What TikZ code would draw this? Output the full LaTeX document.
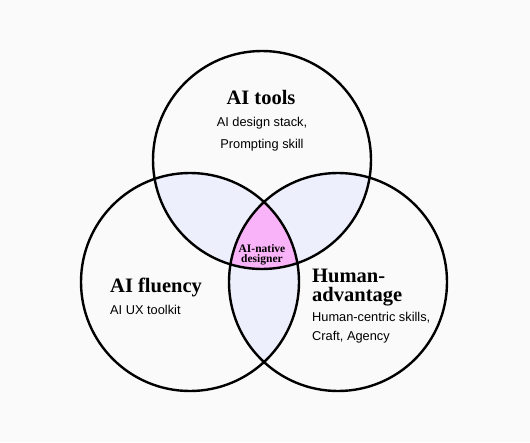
\documentclass[tikz,border=0pt]{standalone}
\usepackage{fontspec}
\setmainfont{Liberation Serif}
\setsansfont{Liberation Sans}
\usetikzlibrary{positioning}
\definecolor{paper}{HTML}{FAFAFA}
\definecolor{overlap}{HTML}{EDF0FC}
\definecolor{core}{HTML}{F9B3F8}

\begin{document}
\begin{tikzpicture}[x=1pt,y=-1pt,
  ring/.style={circle,draw=black,line width=2.4pt,minimum size=218pt,inner sep=0pt},
  head/.style={font=\bfseries\fontsize{20.5}{19}\selectfont,inner sep=0pt},
  body/.style={font=\sffamily\fontsize{12.8}{15}\selectfont,inner sep=0pt},
  tiny/.style={font=\bfseries\fontsize{11.5}{10}\selectfont,inner sep=0pt,align=center}]
\fill[paper] (0,0) rectangle (530,442);
\coordinate (ctools) at (262,160);
\coordinate (cfluency) at (190,282);
\coordinate (chuman) at (338,282);
% pairwise overlaps
\begin{scope}
\clip (ctools) circle[radius=109pt];
\fill[overlap] (cfluency) circle[radius=109pt];
\fill[overlap] (chuman) circle[radius=109pt];
\end{scope}
\begin{scope}
\clip (cfluency) circle[radius=109pt];
\fill[overlap] (chuman) circle[radius=109pt];
\end{scope}
% centre
\begin{scope}
\clip (ctools) circle[radius=109pt];
\clip (cfluency) circle[radius=109pt];
\fill[core] (chuman) circle[radius=109pt];
\end{scope}
\node[ring] (tools) at (ctools) {};
\node[ring] (fluency) at (cfluency) {};
\node[ring] (human) at (chuman) {};
% labels
\node[head,anchor=base] (toolsT) at (261,104) {AI tools};
\node[body,anchor=base] (toolsA) at (262,126) {AI design stack,};
\node[body,anchor=base] (toolsB) at (262,148) {Prompting skill};
\node[head,anchor=base west] (fluencyT) at (110,292) {AI fluency};
\node[body,anchor=base west] (fluencyA) at (110,314) {AI UX toolkit};
\node[head,anchor=north west,align=left] (humanT) at (312,268.5) {Human-\\advantage};
\node[body,anchor=base west] (humanA) at (312,321) {Human-centric skills,};
\node[body,anchor=base west] (humanB) at (312,340) {Craft, Agency};
\node[tiny,anchor=north] (native) at (262,244) {AI-native\\designer};
\end{tikzpicture}
\end{document}
